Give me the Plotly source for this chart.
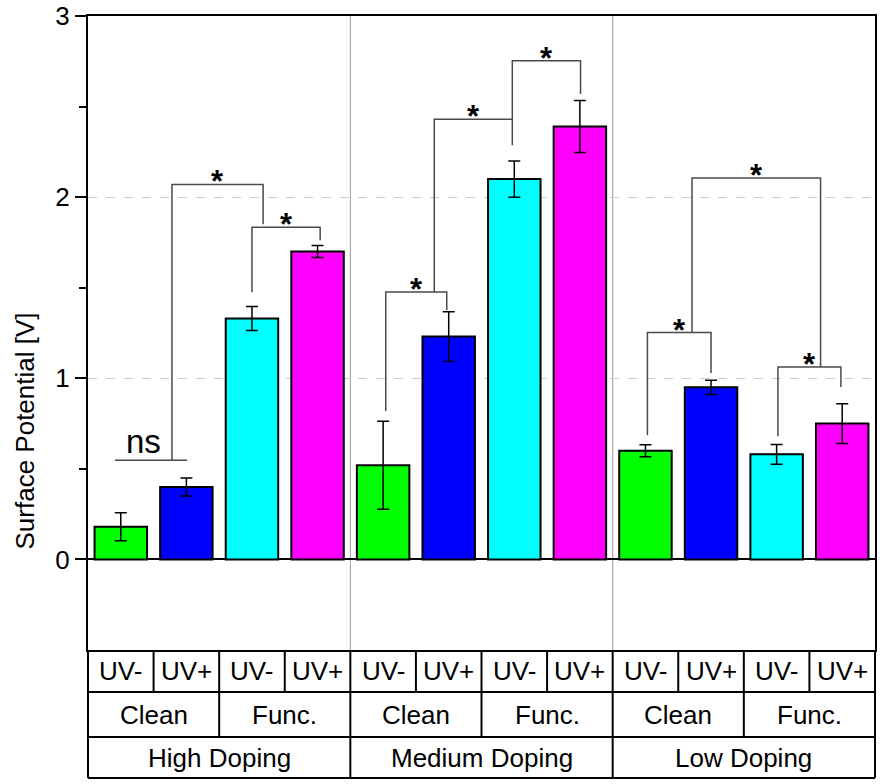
import plotly.graph_objects as go

# ---- data ----
doping_levels = ["High Doping", "Medium Doping", "Low Doping"]
surface_types = ["Clean", "Func."]
uv_states = ["UV-", "UV+"]
condition_colors = ["#00FF00", "#0000FF", "#00FFFF", "#FF00FF"]  # Clean UV-, Clean UV+, Func UV-, Func UV+

surface_potential = [0.18, 0.40, 1.33, 1.70,
                     0.52, 1.23, 2.10, 2.39,
                     0.60, 0.95, 0.58, 0.75]
surface_potential_err = [0.077, 0.050, 0.066, 0.033,
                         0.243, 0.138, 0.100, 0.144,
                         0.033, 0.039, 0.055, 0.110]

y_ticks = [0, 1, 2, 3]
y_minor = [0.5, 1.5, 2.5]

# significance brackets: (x_left, y_left_end, x_right, y_right_end, y_top, label)
brackets = [
    (0.78, 0.547, 2.17, 1.85, 2.07, "*"),
    (2.00, 1.475, 3.04, 1.762, 1.834, "*"),
    (4.04, 0.819, 4.97, 1.376, 1.477, "*"),
    (4.78, 1.477, 5.97, 2.287, 2.43, "*"),
    (5.97, 2.43, 7.01, 2.57, 2.753, "*"),
    (8.03, 0.685, 9.00, 1.029, 1.2525, "*"),
    (10.02, 0.680, 10.98, 0.952, 1.0625, "*"),
    (8.71, 1.2525, 10.67, 1.0625, 2.105, "*"),
]
ns_line = (-0.09, 1.01, 0.547)   # x0, x1, y
ns_label_x = 0.34

FONT = "Liberation Sans, Arial, sans-serif"

n = len(surface_potential)
xs = list(range(n))
bar_colors = [condition_colors[i % 4] for i in range(n)]

fig = go.Figure()
fig.add_trace(go.Bar(
    x=xs, y=surface_potential, width=0.8,
    marker=dict(color=bar_colors, line=dict(color="black", width=2)),
    error_y=dict(type="data", array=surface_potential_err, color="black",
                 thickness=1.5, width=6),
    showlegend=False, hoverinfo="y",
))

shapes = []
annotations = []
BR_COLOR = "#4a4a4a"

# group separators inside plot
for g in range(1, len(doping_levels)):
    xb = g * 4 - 0.5
    shapes.append(dict(type="line", xref="x", yref="y", x0=xb, x1=xb, y0=-0.5, y1=3,
                       line=dict(color="#999999", width=1), layer="below"))

# brackets
for (xl, yl, xr, yr, yt, lab) in brackets:
    shapes.append(dict(type="path", xref="x", yref="y",
                       path=f"M {xl},{yl} L {xl},{yt} L {xr},{yt} L {xr},{yr}",
                       line=dict(color=BR_COLOR, width=1.5)))
    annotations.append(dict(x=(xl + xr) / 2, y=yt, xref="x", yref="y", text="<b>" + lab + "</b>",
                            showarrow=False, yanchor="bottom", yshift=-17,
                            font=dict(family=FONT, size=31, color="black")))

x0n, x1n, yn = ns_line
shapes.append(dict(type="line", xref="x", yref="y", x0=x0n, x1=x1n, y0=yn, y1=yn,
                   line=dict(color=BR_COLOR, width=1.5)))
annotations.append(dict(x=ns_label_x, y=yn, xref="x", yref="y", text="ns",
                        showarrow=False, yanchor="bottom", yshift=-2,
                        font=dict(family=FONT, size=33, color="black")))

# ---- category table below plot ----
plot_h = 634.0
def py2paper(py):
    return (650 - py) / plot_h

row_edges = [650, 692, 737, 778]
row_y = [py2paper(e) for e in row_edges]
TL = dict(color="black", width=2)
def xd(x):  # data x -> x domain fraction
    return (x + 0.5) / n

for yy in row_y[1:]:
    shapes.append(dict(type="line", xref="x domain", yref="y domain", x0=0, x1=1,
                       y0=yy, y1=yy, line=TL))
for xx in (0, 1):
    shapes.append(dict(type="line", xref="x domain", yref="y domain", x0=xx, x1=xx,
                       y0=row_y[0], y1=row_y[3], line=TL))
for i in range(1, n):
    shapes.append(dict(type="line", xref="x domain", yref="y domain", x0=xd(i - 0.5), x1=xd(i - 0.5),
                       y0=row_y[0], y1=row_y[1] if i % 2 else (row_y[2] if i % 4 else row_y[3]), line=TL))

TFONT = dict(family=FONT, size=26, color="black")
for i in range(n):
    annotations.append(dict(x=i, y=(row_y[0] + row_y[1]) / 2, xref="x", yref="paper",
                            text=uv_states[i % 2], showarrow=False, yanchor="middle", font=TFONT))
for j in range(n // 2):
    annotations.append(dict(x=2 * j + 0.5, y=(row_y[1] + row_y[2]) / 2, xref="x", yref="paper",
                            text=surface_types[j % 2], showarrow=False, yanchor="middle", font=TFONT))
for k in range(len(doping_levels)):
    annotations.append(dict(x=4 * k + 1.5, y=(row_y[2] + row_y[3]) / 2, xref="x", yref="paper",
                            text=doping_levels[k], showarrow=False, yanchor="middle", font=TFONT))

# y-axis title
annotations.append(dict(x=(25 - 88) / 787.0, y=py2paper(431.5), xref="paper", yref="paper",
                        text="Surface Potential [V]", textangle=-90, showarrow=False,
                        xanchor="center", yanchor="middle",
                        font=dict(family=FONT, size=26, color="black")))

fig.update_layout(
    width=883, height=784,
    margin=dict(l=88, r=8, t=16, b=134, pad=0, autoexpand=False),
    paper_bgcolor="white", plot_bgcolor="white",
    shapes=shapes, annotations=annotations,
    font=dict(family=FONT, color="black"),
    bargap=0.2,
)
fig.update_xaxes(range=[-0.5, n - 0.5], showticklabels=False, ticks="", showgrid=False,
                 zeroline=False, showline=True, linecolor="black", linewidth=2, mirror=True,
                 automargin=False)
fig.update_yaxes(range=[-0.5, 3], tickvals=y_ticks, ticks="outside", ticklen=11, tickwidth=2,
                 tickcolor="black", tickfont=dict(family=FONT, size=26, color="black"),
                 ticklabeloverflow="allow", automargin=False,
                 showline=True, linecolor="black", linewidth=2, mirror=True,
                 showgrid=True, gridcolor="#cccccc", griddash="dash", gridwidth=1,
                 zeroline=True, zerolinecolor="black", zerolinewidth=2,
                 minor=dict(tickvals=y_minor, ticks="outside", ticklen=7, tickwidth=2,
                            tickcolor="black", showgrid=False))

fig.write_html("out.html", config={"displayModeBar": False},
               post_script="document.body.style.margin='0px';")
